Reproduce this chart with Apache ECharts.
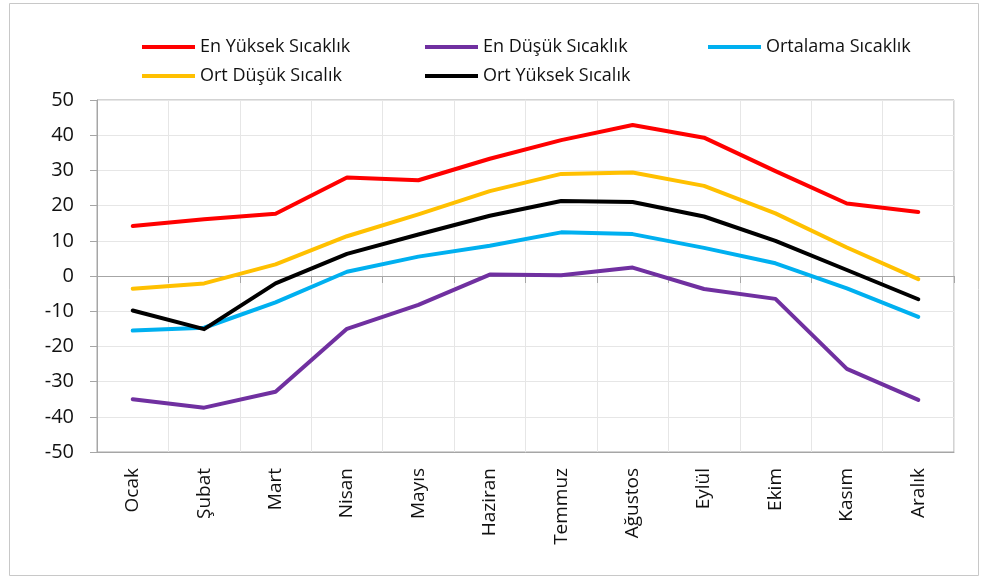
<!DOCTYPE html>
<html>
<head>
<meta charset="utf-8">
<script src="https://cdn.jsdelivr.net/npm/echarts@6/dist/echarts.min.js"></script>
<style>
html,body{margin:0;padding:0;background:#fff;}
#c{width:984px;height:577px;}
</style>
</head>
<body>
<div id="c"></div>
<script>
const months = ['Ocak','Şubat','Mart','Nisan','Mayıs','Haziran','Temmuz','Ağustos','Eylül','Ekim','Kasım','Aralık'];
const seriesNames = ['En Yüksek Sıcaklık','En Düşük Sıcaklık','Ortalama Sıcaklık','Ort Düşük Sıcalık','Ort Yüksek Sıcalık'];
const enYuksek = [14.2, 16.1, 17.7, 28.0, 27.2, 33.3, 38.6, 42.9, 39.3, 29.8, 20.6, 18.2];
const enDusuk = [-35.0, -37.4, -32.9, -15.0, -8.2, 0.4, 0.2, 2.4, -3.7, -6.5, -26.4, -35.2];
const ortalama = [-15.5, -14.7, -7.5, 1.2, 5.5, 8.6, 12.4, 11.9, 8.0, 3.6, -3.5, -11.6];
const ortDusuk = [-3.6, -2.1, 3.3, 11.3, 17.5, 24.1, 29.0, 29.4, 25.6, 17.8, 8.1, -0.9];
const ortYuksek = [-9.8, -15.1, -2.1, 6.3, 11.8, 17.1, 21.3, 21.0, 16.9, 10.0, 1.7, -6.6];
const yTicks = [-50,-40,-30,-20,-10,0,10,20,30,40,50];

const colors = ['#FF0000','#7030A0','#00B0F0','#FFC000','#000000'];
const dataSets = [enYuksek, enDusuk, ortalama, ortDusuk, ortYuksek];
const legendPos = [[142,37],[425,37],[708,37],[142,66],[425,66]];
const FONT = '"Open Sans", "Noto Sans", sans-serif';

const chart = echarts.init(document.getElementById('c'), null, {renderer:'canvas'});
const option = {
  backgroundColor: '#ffffff',
  animation: false,
  graphic: [{
    type: 'rect',
    shape: {x: 9.5, y: 3.5, width: 969, height: 572},
    style: {fill: 'none', stroke: '#c8c8c8', lineWidth: 1},
    silent: true, z: -1
  }],
  legend: seriesNames.map((n, i) => ({
    data: [n],
    left: legendPos[i][0],
    top: legendPos[i][1],
    icon: 'rect',
    itemWidth: 53,
    itemHeight: 4,
    itemGap: 0,
    padding: 0,
    textStyle: {fontFamily: FONT, fontSize: 18, color: '#111', lineHeight: 20, padding: [0,0,0,0]}
  })),
  grid: {left: 97, right: 30, top: 100, bottom: 125, show: true, borderColor: '#a6a6a6', borderWidth: 1},
  xAxis: [{
    type: 'category',
    data: months,
    position: 'bottom',
    boundaryGap: true,
    axisLine: {onZero: false, show: true, lineStyle: {color: '#a6a6a6', width: 1}},
    axisTick: {show: false},
    splitLine: {show: true, interval: 0, lineStyle: {color: '#e6e6e6', width: 1}},
    axisLabel: {interval: 0, rotate: 90, margin: 16, fontFamily: FONT, fontSize: 19, color: '#111'}
  }, {
    type: 'category',
    data: months,
    position: 'top',
    boundaryGap: true,
    axisLine: {onZero: true, onZeroAxisIndex: 0, show: true, lineStyle: {color: '#a6a6a6', width: 1}},
    axisTick: {show: true, inside: true, length: 7, interval: 0, lineStyle: {color: '#a6a6a6'}},
    axisLabel: {show: false},
    splitLine: {show: false}
  }],
  yAxis: {
    type: 'value',
    min: -50, max: 50, interval: 10,
    axisLine: {show: true, lineStyle: {color: '#a6a6a6', width: 1}},
    axisTick: {show: true, length: 7, lineStyle: {color: '#a6a6a6'}},
    splitLine: {show: true, lineStyle: {color: '#e6e6e6', width: 1}},
    axisLabel: {margin: 23, fontFamily: FONT, fontSize: 20, color: '#111',
      formatter: v => yTicks.includes(v) ? String(v) : ''}
  },
  series: seriesNames.map((n, i) => ({
    name: n,
    type: 'line',
    xAxisIndex: 0,
    data: dataSets[i],
    symbol: 'none',
    showSymbol: false,
    color: colors[i],
    lineStyle: {color: colors[i], width: 4, cap: 'round', join: 'round'}
  }))
};
chart.setOption(option);
</script>
</body>
</html>
